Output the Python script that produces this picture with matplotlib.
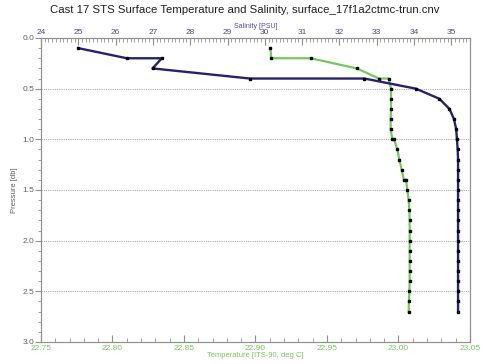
import matplotlib
matplotlib.use("Agg")
import matplotlib.pyplot as plt
from matplotlib.ticker import MultipleLocator, FormatStrFormatter

plt.rcParams['font.family'] = ['Liberation Sans', 'DejaVu Sans']

# salinity profile (PSU) vs pressure (db)
sal_p = [0.1, 0.2, 0.2, 0.3, 0.4, 0.4, 0.5, 0.6, 0.7, 0.8, 0.9, 1.0,
         1.1, 1.2, 1.3, 1.4, 1.5, 1.6, 1.7, 1.8, 1.9, 2.0, 2.1, 2.2,
         2.3, 2.4, 2.5, 2.6, 2.7]
sal = [25.0, 26.3, 27.24, 26.99, 29.6, 32.67, 34.05, 34.68, 34.95, 35.07,
       35.13, 35.15, 35.17, 35.18, 35.18, 35.18, 35.18, 35.18, 35.18, 35.18,
       35.18, 35.18, 35.18, 35.18, 35.18, 35.18, 35.18, 35.18, 35.18]

# temperature profile (ITS-90, deg C) vs pressure (db)
tmp_p = [0.1, 0.2, 0.2, 0.3, 0.4, 0.4, 0.5, 0.6, 0.7, 0.8, 0.9, 1.0, 1.0,
         1.1, 1.2, 1.3, 1.4, 1.4, 1.5, 1.6, 1.7, 1.8, 1.9, 2.0, 2.1, 2.2,
         2.3, 2.4, 2.5, 2.6, 2.7]
tmp = [22.9104, 22.911, 22.9386, 22.9708, 22.9864, 22.9931, 22.9948,
       22.9948, 22.9948, 22.9945, 22.9945, 22.9957, 22.9969, 22.9992,
       23.0006, 23.0022, 23.0038, 23.0052, 23.0062, 23.0071, 23.0076,
       23.0078, 23.0078, 23.0078, 23.0078, 23.0078, 23.0078, 23.0078,
       23.0076, 23.0073, 23.0071]

green = '#74c85a'
navy = '#23236e'
gray = '#606060'

fig = plt.figure(figsize=(4.89, 3.64), dpi=100)
ax = fig.add_axes([41/489, 1-342/364, 429/489, 304/364])
ax2 = ax.twiny()

ax.plot(tmp, tmp_p, color=green, lw=1.6, marker='s', ms=1.8,
        mfc='black', mec='black', zorder=3)
ax2.plot(sal, sal_p, color=navy, lw=1.7, marker='s', ms=1.8,
         mfc='black', mec='black', zorder=3)

ax.set_xlim(22.75, 23.05)
ax2.set_xlim(24, 35.5)
ax.set_ylim(3.0, 0.0)

ax.xaxis.set_major_locator(MultipleLocator(0.05))
ax.xaxis.set_minor_locator(MultipleLocator(0.01))
ax.xaxis.set_major_formatter(FormatStrFormatter('%.2f'))
ax.yaxis.set_major_locator(MultipleLocator(0.5))
ax.yaxis.set_minor_locator(MultipleLocator(0.1))
ax.yaxis.set_major_formatter(FormatStrFormatter('%.1f'))
ax2.xaxis.set_major_locator(MultipleLocator(1))
ax2.xaxis.set_minor_locator(MultipleLocator(0.1))

for p in [0.5, 1.0, 1.5, 2.0, 2.5]:
    ax.axhline(p, color='#aaaaaa', lw=0.8, ls=(0, (1, 1)), zorder=1)

for a in (ax, ax2):
    for s in a.spines.values():
        s.set_color('#909090')
        s.set_linewidth(0.8)

ax.tick_params(axis='x', which='both', direction='in', colors='#909090',
               labelcolor=green, labelsize=6, pad=2)
ax.tick_params(axis='x', which='major', length=5)
ax.tick_params(axis='x', which='minor', length=3)
ax.tick_params(axis='y', which='both', direction='out', colors='#909090',
               labelcolor=gray, labelsize=6, pad=1)
ax.tick_params(axis='y', which='major', length=4)
ax.tick_params(axis='y', which='minor', length=2)
ax2.tick_params(axis='x', which='both', direction='in', colors='#909090',
                labelcolor='#4a4aa0', labelsize=6, pad=1.5)
ax2.tick_params(axis='x', which='major', length=5)
ax2.tick_params(axis='x', which='minor', length=3)

ax.set_xlabel('Temperature [ITS-90, deg C]', color=green, fontsize=5.5, labelpad=0.5)
ax2.set_xlabel('Salinity [PSU]', color='#4a4aa0', fontsize=5, labelpad=0.5)
ax.set_ylabel('Pressure [db]', color=gray, fontsize=5.5, labelpad=3)

fig.text(0.5, 1-10/364, 'Cast 17 STS Surface Temperature and Salinity, surface_17f1a2ctmc-trun.cnv',
         ha='center', va='center', fontsize=8.2, color='#202020')

fig.savefig('out.png', dpi=100)
